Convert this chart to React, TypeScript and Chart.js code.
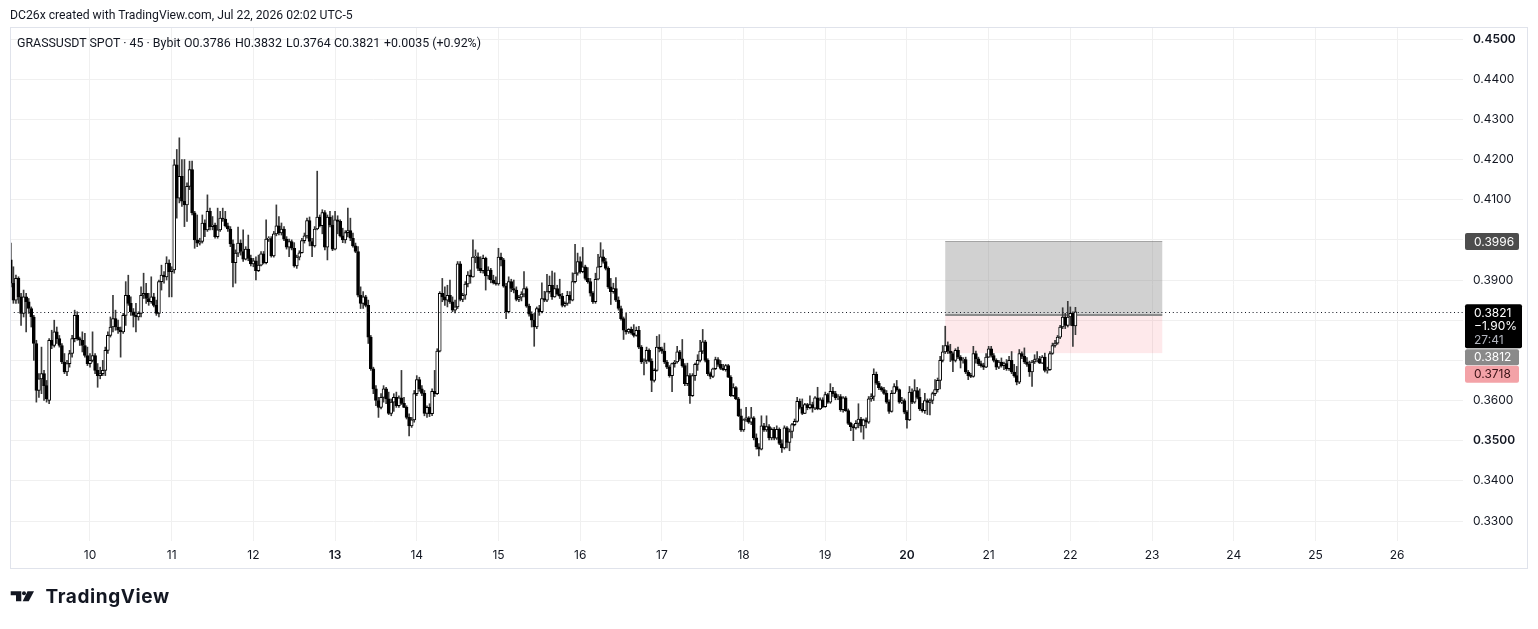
import React, { useEffect, useRef } from "react";
import { Chart, registerables } from "chart.js";

Chart.register(...registerables);

type Candle = [number, number, number, number]; // open, high, low, close

// 45-minute candles, GRASSUSDT (Bybit). Each day holds its candles in time order.
const jul09: Candle[] = [
  [0.3950,0.3992,0.3883,0.3892],[0.3892,0.3933,0.3842,0.3850],[0.3850,0.3912,0.3842,0.3904],[0.3904,0.3908,0.3842,0.3858],
  [0.3858,0.3867,0.3787,0.3817],[0.3817,0.3875,0.3808,0.3858],[0.3858,0.3867,0.3771,0.3846],[0.3846,0.3854,0.3817,0.3829],
  [0.3829,0.3833,0.3783,0.3808],[0.3808,0.3812,0.3700,0.3742],[0.3742,0.3750,0.3596,0.3625],[0.3625,0.3667,0.3608,0.3654],
  [0.3654,0.3733,0.3617,0.3667],[0.3667,0.3675,0.3600,0.3637],[0.3637,0.3650,0.3596,0.3604],[0.3600,0.3754,0.3592,0.3750],
  [0.3750,0.3775,0.3729,0.3737],[0.3737,0.3800,0.3733,0.3771],[0.3771,0.3783,0.3742,0.3754],[0.3754,0.3762,0.3733,0.3737],
  [0.3737,0.3742,0.3692,0.3696],[0.3696,0.3717,0.3667,0.3671],[0.3671,0.3700,0.3662,0.3692],[0.3692,0.3725,0.3683,0.3717],
  [0.3717,0.3762,0.3708,0.3754],[0.3754,0.3825,0.3746,0.3812],[0.3812,0.3821,0.3750,0.3754],[0.3754,0.3758,0.3737,0.3750],
  [0.3750,0.3771,0.3721,0.3737],[0.3737,0.3767,0.3708,0.3712],[0.3712,0.3733,0.3687,0.3692],
];
const jul10: Candle[] = [
  [0.3692,0.3717,0.3683,0.3700],[0.3700,0.3771,0.3696,0.3712],[0.3712,0.3717,0.3667,0.3675],[0.3675,0.3692,0.3633,0.3662],
  [0.3662,0.3683,0.3654,0.3667],[0.3667,0.3700,0.3662,0.3675],[0.3675,0.3733,0.3662,0.3725],[0.3725,0.3771,0.3717,0.3762],
  [0.3762,0.3808,0.3758,0.3783],[0.3783,0.3862,0.3771,0.3804],[0.3804,0.3825,0.3775,0.3783],[0.3783,0.3800,0.3767,0.3775],
  [0.3775,0.3783,0.3708,0.3771],[0.3771,0.3817,0.3767,0.3812],[0.3812,0.3896,0.3787,0.3862],[0.3862,0.3912,0.3837,0.3842],
  [0.3842,0.3858,0.3812,0.3821],[0.3821,0.3829,0.3783,0.3812],[0.3812,0.3842,0.3771,0.3808],[0.3808,0.3821,0.3800,0.3817],
  [0.3817,0.3883,0.3808,0.3862],[0.3862,0.3917,0.3854,0.3867],[0.3867,0.3892,0.3842,0.3854],[0.3854,0.3867,0.3837,0.3846],
  [0.3846,0.3908,0.3842,0.3858],[0.3858,0.3867,0.3833,0.3837],[0.3837,0.3850,0.3812,0.3817],[0.3817,0.3900,0.3808,0.3896],
  [0.3896,0.3937,0.3875,0.3912],[0.3912,0.3921,0.3892,0.3908],[0.3908,0.3958,0.3900,0.3942],[0.3942,0.3950,0.3858,0.3921],
];
const jul11: Candle[] = [
  [0.3921,0.3933,0.3858,0.3925],[0.3925,0.4200,0.3917,0.4187],[0.4187,0.4225,0.4054,0.4104],[0.4104,0.4254,0.4092,0.4158],
  [0.4158,0.4200,0.4083,0.4096],[0.4096,0.4200,0.4033,0.4087],[0.4087,0.4142,0.4046,0.4133],[0.4133,0.4196,0.4125,0.4175],
  [0.4175,0.4196,0.4062,0.4067],[0.4067,0.4071,0.3979,0.4000],[0.4000,0.4062,0.3983,0.3992],[0.3992,0.4004,0.3987,0.3996],
  [0.3996,0.4062,0.3992,0.4042],[0.4042,0.4050,0.4008,0.4025],[0.4025,0.4112,0.4021,0.4071],[0.4071,0.4079,0.4025,0.4033],
  [0.4033,0.4058,0.4025,0.4037],[0.4037,0.4042,0.4004,0.4008],[0.4008,0.4079,0.4004,0.4025],[0.4025,0.4071,0.4021,0.4054],
  [0.4054,0.4079,0.4046,0.4052],[0.4052,0.4071,0.4032,0.4035],[0.4035,0.4042,0.4021,0.4027],[0.4027,0.4033,0.3983,0.3990],
  [0.3990,0.4000,0.3883,0.3943],[0.3943,0.3975,0.3892,0.3967],[0.3967,0.4032,0.3958,0.3992],[0.3992,0.4000,0.3962,0.3971],
  [0.3971,0.4025,0.3946,0.3952],[0.3952,0.3983,0.3950,0.3977],[0.3977,0.4012,0.3948,0.3954],[0.3954,0.3962,0.3935,0.3940],
];
const jul12: Candle[] = [
  [0.3940,0.3954,0.3933,0.3948],[0.3948,0.3958,0.3900,0.3923],[0.3923,0.3962,0.3921,0.3937],[0.3937,0.3971,0.3935,0.3965],
  [0.3965,0.3971,0.3940,0.3943],[0.3943,0.4050,0.3940,0.4002],[0.4002,0.4008,0.3996,0.4003],[0.4003,0.4008,0.3957,0.3960],
  [0.3960,0.4021,0.3957,0.4015],[0.4015,0.4087,0.4010,0.4035],[0.4035,0.4058,0.4012,0.4017],[0.4017,0.4042,0.4012,0.4027],
  [0.4027,0.4033,0.3998,0.4002],[0.4002,0.4008,0.3977,0.3982],[0.3982,0.4002,0.3958,0.3996],[0.3996,0.4000,0.3975,0.3979],
  [0.3979,0.3993,0.3932,0.3935],[0.3935,0.3962,0.3929,0.3957],[0.3957,0.3973,0.3950,0.3968],[0.3968,0.4004,0.3967,0.3998],
  [0.3998,0.4017,0.3992,0.4010],[0.4010,0.4054,0.4004,0.4048],[0.4048,0.4057,0.3985,0.3996],[0.3996,0.4004,0.3958,0.3985],
  [0.3985,0.4033,0.3982,0.4027],[0.4027,0.4171,0.4025,0.4057],[0.4057,0.4062,0.4032,0.4035],[0.4035,0.4075,0.4015,0.4068],
  [0.4068,0.4073,0.3975,0.3982],[0.3982,0.4062,0.3950,0.4057],[0.4057,0.4071,0.4032,0.4037],[0.4037,0.4060,0.3973,0.3977],
];
const jul13: Candle[] = [
  [0.3977,0.4071,0.3975,0.4050],[0.4050,0.4060,0.4015,0.4046],[0.4046,0.4050,0.4007,0.4010],[0.4010,0.4029,0.3993,0.4000],
  [0.4000,0.4023,0.3992,0.4018],[0.4018,0.4079,0.4007,0.4023],[0.4023,0.4054,0.3998,0.4004],[0.4004,0.4017,0.3982,0.3985],
  [0.3985,0.3992,0.3968,0.3971],[0.3971,0.3983,0.3858,0.3862],[0.3862,0.3883,0.3829,0.3842],[0.3842,0.3871,0.3829,0.3858],
  [0.3858,0.3862,0.3833,0.3837],[0.3837,0.3850,0.3742,0.3758],[0.3758,0.3762,0.3675,0.3679],[0.3679,0.3683,0.3617,0.3629],
  [0.3629,0.3637,0.3587,0.3600],[0.3600,0.3608,0.3558,0.3583],[0.3583,0.3617,0.3579,0.3608],[0.3608,0.3637,0.3596,0.3629],
  [0.3629,0.3633,0.3592,0.3604],[0.3604,0.3621,0.3565,0.3568],[0.3568,0.3604,0.3562,0.3596],[0.3596,0.3617,0.3573,0.3608],
  [0.3608,0.3621,0.3583,0.3587],[0.3587,0.3612,0.3583,0.3607],[0.3607,0.3675,0.3590,0.3593],[0.3593,0.3608,0.3582,0.3583],
  [0.3583,0.3587,0.3554,0.3558],[0.3558,0.3567,0.3512,0.3537],[0.3537,0.3558,0.3533,0.3552],[0.3552,0.3625,0.3546,0.3617],
];
const jul14: Candle[] = [
  [0.3617,0.3662,0.3612,0.3652],[0.3652,0.3658,0.3623,0.3629],[0.3629,0.3637,0.3612,0.3618],[0.3618,0.3625,0.3562,0.3568],
  [0.3568,0.3587,0.3558,0.3583],[0.3583,0.3592,0.3560,0.3567],[0.3567,0.3629,0.3562,0.3623],[0.3623,0.3675,0.3610,0.3617],
  [0.3617,0.3729,0.3615,0.3723],[0.3723,0.3871,0.3721,0.3867],[0.3867,0.3904,0.3846,0.3858],[0.3858,0.3883,0.3837,0.3850],
  [0.3850,0.3887,0.3833,0.3862],[0.3862,0.3900,0.3842,0.3846],[0.3846,0.3858,0.3821,0.3825],[0.3825,0.3850,0.3818,0.3833],
  [0.3833,0.3946,0.3829,0.3940],[0.3940,0.3946,0.3848,0.3852],[0.3852,0.3867,0.3846,0.3862],[0.3862,0.3896,0.3852,0.3890],
  [0.3890,0.3921,0.3883,0.3912],[0.3912,0.3925,0.3892,0.3908],[0.3908,0.4000,0.3907,0.3957],[0.3957,0.3975,0.3943,0.3958],
  [0.3958,0.3968,0.3923,0.3929],[0.3929,0.3958,0.3918,0.3923],[0.3923,0.3962,0.3917,0.3954],[0.3954,0.3957,0.3875,0.3910],
  [0.3910,0.3933,0.3902,0.3925],[0.3925,0.3929,0.3893,0.3900],[0.3900,0.3912,0.3890,0.3893],[0.3893,0.3908,0.3887,0.3890],
];
const jul15: Candle[] = [
  [0.3890,0.3979,0.3887,0.3957],[0.3957,0.3967,0.3935,0.3950],[0.3950,0.3954,0.3882,0.3885],[0.3885,0.3892,0.3804,0.3821],
  [0.3821,0.3908,0.3818,0.3896],[0.3896,0.3902,0.3871,0.3879],[0.3879,0.3900,0.3868,0.3875],[0.3875,0.3883,0.3848,0.3852],
  [0.3852,0.3862,0.3846,0.3857],[0.3857,0.3871,0.3848,0.3865],[0.3865,0.3921,0.3858,0.3879],[0.3879,0.3883,0.3832,0.3835],
  [0.3835,0.3840,0.3810,0.3815],[0.3815,0.3821,0.3783,0.3800],[0.3800,0.3817,0.3735,0.3783],[0.3783,0.3833,0.3779,0.3829],
  [0.3829,0.3837,0.3812,0.3821],[0.3821,0.3893,0.3818,0.3854],[0.3854,0.3872,0.3846,0.3850],[0.3850,0.3914,0.3846,0.3871],
  [0.3871,0.3910,0.3867,0.3887],[0.3887,0.3922,0.3852,0.3858],[0.3858,0.3918,0.3857,0.3879],[0.3879,0.3887,0.3862,0.3865],
  [0.3865,0.3902,0.3854,0.3860],[0.3860,0.3867,0.3833,0.3837],[0.3837,0.3846,0.3833,0.3842],[0.3842,0.3872,0.3837,0.3862],
  [0.3862,0.3871,0.3842,0.3850],[0.3850,0.3918,0.3848,0.3896],[0.3896,0.3989,0.3893,0.3917],[0.3917,0.3967,0.3912,0.3946],
];
const jul16: Candle[] = [
  [0.3946,0.3958,0.3917,0.3921],[0.3921,0.3981,0.3918,0.3933],[0.3933,0.3937,0.3900,0.3904],[0.3904,0.3931,0.3892,0.3896],
  [0.3896,0.3904,0.3860,0.3867],[0.3867,0.3871,0.3842,0.3846],[0.3846,0.3917,0.3842,0.3902],[0.3902,0.3964,0.3900,0.3933],
  [0.3933,0.3993,0.3932,0.3958],[0.3958,0.3975,0.3942,0.3946],[0.3946,0.3954,0.3925,0.3929],[0.3929,0.3933,0.3879,0.3883],
  [0.3883,0.3904,0.3839,0.3871],[0.3871,0.3892,0.3867,0.3879],[0.3879,0.3906,0.3846,0.3850],[0.3850,0.3858,0.3825,0.3829],
  [0.3829,0.3835,0.3800,0.3804],[0.3804,0.3808,0.3752,0.3775],[0.3775,0.3817,0.3765,0.3771],[0.3771,0.3779,0.3767,0.3777],
  [0.3777,0.3783,0.3765,0.3768],[0.3768,0.3789,0.3758,0.3762],[0.3762,0.3783,0.3760,0.3775],[0.3775,0.3785,0.3729,0.3733],
  [0.3733,0.3737,0.3692,0.3696],[0.3696,0.3704,0.3664,0.3700],[0.3700,0.3733,0.3692,0.3725],[0.3725,0.3729,0.3696,0.3698],
  [0.3698,0.3704,0.3622,0.3650],[0.3650,0.3679,0.3646,0.3675],[0.3675,0.3760,0.3673,0.3733],[0.3733,0.3764,0.3721,0.3729],
];
const jul17: Candle[] = [
  [0.3729,0.3733,0.3717,0.3723],[0.3723,0.3743,0.3692,0.3696],[0.3696,0.3700,0.3679,0.3683],[0.3683,0.3687,0.3658,0.3662],
  [0.3662,0.3693,0.3622,0.3692],[0.3692,0.3700,0.3683,0.3696],[0.3696,0.3735,0.3693,0.3721],[0.3721,0.3725,0.3700,0.3704],
  [0.3704,0.3752,0.3683,0.3687],[0.3687,0.3692,0.3637,0.3642],[0.3642,0.3693,0.3637,0.3662],[0.3662,0.3667,0.3593,0.3612],
  [0.3612,0.3667,0.3610,0.3662],[0.3662,0.3693,0.3650,0.3690],[0.3690,0.3714,0.3675,0.3700],[0.3700,0.3750,0.3696,0.3723],
  [0.3723,0.3777,0.3717,0.3746],[0.3746,0.3750,0.3696,0.3700],[0.3700,0.3704,0.3662,0.3667],[0.3667,0.3671,0.3654,0.3660],
  [0.3660,0.3681,0.3657,0.3679],[0.3679,0.3708,0.3677,0.3702],[0.3702,0.3707,0.3685,0.3690],[0.3690,0.3700,0.3677,0.3680],
  [0.3680,0.3690,0.3675,0.3677],[0.3677,0.3690,0.3673,0.3687],[0.3687,0.3690,0.3657,0.3658],[0.3658,0.3662,0.3610,0.3612],
  [0.3612,0.3642,0.3610,0.3632],[0.3632,0.3635,0.3602,0.3604],[0.3604,0.3608,0.3560,0.3562],[0.3562,0.3579,0.3523,0.3527],
];
const jul18: Candle[] = [
  [0.3527,0.3554,0.3523,0.3552],[0.3552,0.3583,0.3548,0.3557],[0.3557,0.3560,0.3543,0.3546],[0.3546,0.3583,0.3540,0.3557],
  [0.3557,0.3560,0.3502,0.3507],[0.3507,0.3517,0.3479,0.3485],[0.3485,0.3493,0.3462,0.3479],[0.3479,0.3562,0.3477,0.3537],
  [0.3537,0.3543,0.3523,0.3527],[0.3527,0.3562,0.3523,0.3535],[0.3535,0.3540,0.3502,0.3507],[0.3507,0.3532,0.3502,0.3528],
  [0.3528,0.3533,0.3502,0.3506],[0.3506,0.3537,0.3503,0.3528],[0.3528,0.3532,0.3490,0.3493],[0.3493,0.3502,0.3471,0.3482],
  [0.3482,0.3537,0.3479,0.3532],[0.3532,0.3535,0.3482,0.3496],[0.3496,0.3529,0.3475,0.3523],[0.3523,0.3543,0.3507,0.3540],
  [0.3540,0.3554,0.3537,0.3548],[0.3548,0.3608,0.3546,0.3598],[0.3598,0.3604,0.3579,0.3583],[0.3583,0.3604,0.3565,0.3568],
  [0.3568,0.3593,0.3567,0.3590],[0.3590,0.3593,0.3577,0.3582],[0.3582,0.3612,0.3579,0.3590],[0.3590,0.3596,0.3571,0.3581],
  [0.3581,0.3610,0.3577,0.3607],[0.3607,0.3633,0.3577,0.3579],[0.3579,0.3607,0.3577,0.3602],[0.3602,0.3607,0.3582,0.3585],
];
const jul19: Candle[] = [
  [0.3585,0.3621,0.3583,0.3615],[0.3615,0.3618,0.3593,0.3596],[0.3596,0.3642,0.3593,0.3623],[0.3623,0.3633,0.3610,0.3617],
  [0.3617,0.3623,0.3602,0.3607],[0.3607,0.3615,0.3602,0.3610],[0.3610,0.3615,0.3573,0.3577],[0.3577,0.3610,0.3571,0.3607],
  [0.3607,0.3610,0.3573,0.3575],[0.3575,0.3579,0.3540,0.3543],[0.3543,0.3546,0.3525,0.3535],[0.3535,0.3540,0.3500,0.3532],
  [0.3532,0.3550,0.3529,0.3543],[0.3543,0.3592,0.3532,0.3554],[0.3554,0.3558,0.3521,0.3537],[0.3537,0.3554,0.3504,0.3552],
  [0.3552,0.3557,0.3532,0.3546],[0.3546,0.3610,0.3543,0.3604],[0.3604,0.3617,0.3598,0.3610],[0.3610,0.3679,0.3600,0.3665],
  [0.3665,0.3671,0.3640,0.3643],[0.3643,0.3648,0.3627,0.3632],[0.3632,0.3635,0.3623,0.3627],[0.3627,0.3633,0.3615,0.3618],
  [0.3618,0.3625,0.3593,0.3596],[0.3596,0.3602,0.3568,0.3573],[0.3573,0.3625,0.3571,0.3618],[0.3618,0.3642,0.3617,0.3635],
  [0.3635,0.3650,0.3623,0.3627],[0.3627,0.3629,0.3593,0.3596],[0.3596,0.3608,0.3592,0.3600],[0.3600,0.3604,0.3567,0.3571],
];
const jul20: Candle[] = [
  [0.3571,0.3575,0.3531,0.3552],[0.3552,0.3635,0.3550,0.3621],[0.3621,0.3629,0.3592,0.3596],[0.3596,0.3652,0.3593,0.3625],
  [0.3625,0.3633,0.3604,0.3608],[0.3608,0.3629,0.3575,0.3579],[0.3579,0.3593,0.3571,0.3575],[0.3575,0.3618,0.3568,0.3600],
  [0.3600,0.3604,0.3565,0.3595],[0.3595,0.3604,0.3564,0.3600],[0.3600,0.3621,0.3592,0.3617],[0.3617,0.3652,0.3612,0.3627],
  [0.3627,0.3656,0.3621,0.3650],[0.3650,0.3710,0.3629,0.3700],[0.3700,0.3737,0.3696,0.3721],[0.3721,0.3785,0.3717,0.3737],
  [0.3737,0.3746,0.3717,0.3723],[0.3723,0.3740,0.3697,0.3717],[0.3717,0.3721,0.3672,0.3700],[0.3700,0.3729,0.3696,0.3725],
  [0.3725,0.3733,0.3704,0.3708],[0.3708,0.3712,0.3681,0.3700],[0.3700,0.3707,0.3693,0.3702],[0.3702,0.3708,0.3667,0.3671],
  [0.3671,0.3675,0.3652,0.3662],[0.3662,0.3668,0.3657,0.3660],[0.3660,0.3735,0.3658,0.3717],[0.3717,0.3723,0.3693,0.3704],
  [0.3704,0.3708,0.3687,0.3692],[0.3692,0.3698,0.3683,0.3687],[0.3687,0.3693,0.3677,0.3683],[0.3683,0.3717,0.3682,0.3708],
];
const jul21: Candle[] = [
  [0.3708,0.3735,0.3707,0.3729],[0.3729,0.3735,0.3708,0.3712],[0.3712,0.3717,0.3696,0.3700],[0.3700,0.3704,0.3677,0.3683],
  [0.3683,0.3700,0.3679,0.3696],[0.3696,0.3706,0.3683,0.3687],[0.3687,0.3696,0.3677,0.3692],[0.3692,0.3702,0.3675,0.3679],
  [0.3679,0.3710,0.3675,0.3700],[0.3700,0.3722,0.3667,0.3671],[0.3671,0.3690,0.3658,0.3662],[0.3662,0.3685,0.3639,0.3646],
  [0.3646,0.3727,0.3642,0.3717],[0.3717,0.3721,0.3704,0.3710],[0.3710,0.3731,0.3692,0.3696],[0.3696,0.3707,0.3685,0.3690],
  [0.3690,0.3698,0.3660,0.3671],[0.3671,0.3700,0.3635,0.3696],[0.3696,0.3714,0.3692,0.3702],[0.3702,0.3722,0.3696,0.3704],
  [0.3704,0.3710,0.3692,0.3693],[0.3693,0.3712,0.3692,0.3708],[0.3708,0.3718,0.3671,0.3675],[0.3675,0.3683,0.3668,0.3677],
  [0.3677,0.3722,0.3675,0.3717],[0.3717,0.3743,0.3715,0.3737],[0.3737,0.3750,0.3733,0.3743],[0.3743,0.3762,0.3740,0.3758],
  [0.3758,0.3787,0.3754,0.3783],[0.3783,0.3831,0.3779,0.3808],[0.3808,0.3817,0.3779,0.3787],[0.3787,0.3847,0.3783,0.3808],
];
const jul22: Candle[] = [
  [0.3808,0.3833,0.3787,0.3817],[0.3817,0.3821,0.3735,0.3786],[0.3786,0.3832,0.3764,0.3821],
];

const tradingDays: Candle[][] = [jul09, jul10, jul11, jul12, jul13, jul14, jul15, jul16, jul17, jul18, jul19, jul20, jul21, jul22];
const firstCandleSlot = 1; // Jul 9, 00:45 is the 2nd 45-minute slot of the day
const candlesPerDay = 32;

// time axis
const dayLabels = ["10", "11", "12", "13", "14", "15", "16", "17", "18", "19", "20", "21", "22", "23", "24", "25", "26"];
const boldDayLabels = ["13", "20"];
const xRange = { min: 0.67, max: 569.8 };

// price axis
const priceRange = { min: 0.32503, max: 0.45274 };
const priceStep = 0.01;
const boldPrices = [0.45, 0.35];

// short position tool and markers
const lastPrice = 0.3821;
const lastChange = "\u22121.90%";
const countdown = "27:41";
const stopPrice = 0.3996;
const entryPrice = 0.3812;
const targetPrice = 0.3718;
const positionSlots = { start: 367, end: 452 };

const AXIS_FONT = "Inter, 'Noto Sans', sans-serif";
const UI_FONT = "Roboto, 'Noto Sans', sans-serif";
const TEXT = "#131722";
const GRID = "#f0f0f0";

function roundRect(ctx: CanvasRenderingContext2D, x: number, y: number, w: number, h: number, r: number) {
  ctx.beginPath();
  ctx.moveTo(x + r, y);
  ctx.lineTo(x + w - r, y);
  ctx.quadraticCurveTo(x + w, y, x + w, y + r);
  ctx.lineTo(x + w, y + h - r);
  ctx.quadraticCurveTo(x + w, y + h, x + w - r, y + h);
  ctx.lineTo(x + r, y + h);
  ctx.quadraticCurveTo(x, y + h, x, y + h - r);
  ctx.lineTo(x, y + r);
  ctx.quadraticCurveTo(x, y, x + r, y);
  ctx.closePath();
}

const overlayPlugin = {
  id: "tvOverlay",
  beforeDatasetsDraw(chart: any) {
    const { ctx, chartArea: a, scales } = chart;
    const x = scales.x, y = scales.y;
    const x0 = x.getPixelForValue(positionSlots.start);
    const x1 = x.getPixelForValue(positionSlots.end);
    const yStop = y.getPixelForValue(stopPrice);
    const yEntry = y.getPixelForValue(entryPrice);
    const yTarget = y.getPixelForValue(targetPrice);
    ctx.save();
    ctx.beginPath();
    ctx.rect(a.left, a.top, a.right - a.left, a.bottom - a.top);
    ctx.clip();
    ctx.fillStyle = "rgba(128,128,128,0.36)";
    ctx.fillRect(x0, yStop, x1 - x0, yEntry - yStop);
    ctx.fillStyle = "rgba(242,54,69,0.11)";
    ctx.fillRect(x0, yEntry, x1 - x0, yTarget - yEntry);
    ctx.strokeStyle = "rgba(110,110,110,0.55)";
    ctx.lineWidth = 1;
    ctx.beginPath();
    ctx.moveTo(x0, Math.round(yStop) + 0.5);
    ctx.lineTo(x1, Math.round(yStop) + 0.5);
    ctx.stroke();
    ctx.strokeStyle = "#8b8b8b";
    ctx.lineWidth = 2;
    ctx.beginPath();
    ctx.moveTo(x0, Math.round(yEntry));
    ctx.lineTo(x1, Math.round(yEntry));
    ctx.stroke();
    ctx.restore();
  },
  afterDatasetsDraw(chart: any) {
    const { ctx, chartArea: a, scales } = chart;
    const yLast = Math.round(scales.y.getPixelForValue(lastPrice)) + 0.5;
    ctx.save();
    ctx.strokeStyle = TEXT;
    ctx.lineWidth = 1;
    ctx.setLineDash([1, 2.8]);
    ctx.beginPath();
    ctx.moveTo(a.left, yLast);
    ctx.lineTo(a.right, yLast);
    ctx.stroke();
    ctx.restore();
  },
  afterDraw(chart: any) {
    const { ctx, chartArea: a, scales, width } = chart;
    const y = scales.y;
    ctx.save();
    // outer frame of the chart pane + axes
    ctx.strokeStyle = "#e0e3eb";
    ctx.lineWidth = 1;
    ctx.strokeRect(a.left + 0.5, a.top - 0.5, width - 10 - a.left - 1, a.bottom + 27 - a.top + 1);

    const tagLeft = a.right + 2;
    const textLeft = a.right + 11;
    ctx.font = `12px ${AXIS_FONT}`;
    ctx.textBaseline = "middle";
    ctx.textAlign = "left";

    // stop price tag
    const yStop = y.getPixelForValue(stopPrice);
    ctx.fillStyle = "#4d4d4d";
    roundRect(ctx, tagLeft, yStop - 8.5, 54, 17, 2);
    ctx.fill();
    ctx.fillStyle = "#ffffff";
    ctx.fillText(stopPrice.toFixed(4), textLeft, yStop + 0.5);

    // last price tag
    const yLast = y.getPixelForValue(lastPrice);
    const lastTop = yLast - 7.5;
    ctx.fillStyle = "#000000";
    roundRect(ctx, tagLeft, lastTop, 57, 44, 2);
    ctx.fill();
    ctx.fillStyle = "#ffffff";
    ctx.fillText(lastPrice.toFixed(4), textLeft, lastTop + 9);
    ctx.fillText(lastChange, textLeft, lastTop + 22.5);
    ctx.fillStyle = "#b2b5be";
    ctx.fillText(countdown, textLeft, lastTop + 36);

    // entry tag (pushed below last price tag)
    const entryTop = lastTop + 45;
    ctx.fillStyle = "#8a8a8a";
    roundRect(ctx, tagLeft, entryTop, 54, 16, 2);
    ctx.fill();
    ctx.fillStyle = "#ffffff";
    ctx.fillText(entryPrice.toFixed(4), textLeft, entryTop + 8.5);

    // target tag
    const targetTop = entryTop + 16.5;
    ctx.fillStyle = "#f3a2a7";
    roundRect(ctx, tagLeft, targetTop, 54, 17, 2);
    ctx.fill();
    ctx.fillStyle = "#3b1216";
    ctx.fillText(targetPrice.toFixed(4), textLeft, targetTop + 9);
    ctx.restore();
  },
};

function LogoIcon() {
  return (
    <svg width="26" height="11" viewBox="0 0 26 11" style={{ position: "absolute", left: 10, top: 591 }}>
      <path d="M0.7 0.3 H11.3 V10.3 H6 V4.3 H0.7 Z" fill={TEXT} />
      <circle cx="14" cy="2.3" r="2" fill={TEXT} />
      <path d="M17.5 0.3 H24 L18.7 10.3 H12.7 Z" fill={TEXT} />
    </svg>
  );
}

export default function App() {
  const canvasRef = useRef<HTMLCanvasElement | null>(null);

  useEffect(() => {
    const candles: Candle[] = tradingDays.flat();
    const wickData = candles.map((c, k) => ({ x: firstCandleSlot + k, y: [c[2], c[1]] }));
    const bodyData = candles.map((c, k) => ({ x: firstCandleSlot + k, y: [Math.min(c[0], c[3]), Math.max(c[0], c[3])] }));
    const bodyFill = candles.map((c) => (c[3] >= c[0] ? "#ffffff" : "#000000"));

    const chart = new Chart(canvasRef.current as HTMLCanvasElement, {
      type: "bar",
      data: {
        datasets: [
          {
            label: "body",
            data: bodyData as any,
            backgroundColor: bodyFill,
            borderColor: "#000000",
            borderWidth: 1,
            borderSkipped: false,
            barThickness: 3,
            minBarLength: 1,
            grouped: false,
            order: 0,
          } as any,
          {
            label: "wick",
            data: wickData as any,
            backgroundColor: "#3a3a3a",
            borderWidth: 0,
            barThickness: 1,
            grouped: false,
            order: 1,
          } as any,
        ],
      },
      options: {
        responsive: false,
        animation: false,
        events: [],
        layout: { padding: { top: 28, left: 10, right: 10, bottom: 61 } },
        plugins: { legend: { display: false }, tooltip: { enabled: false } },
        scales: {
          x: {
            type: "linear",
            min: xRange.min,
            max: xRange.max,
            offset: false,
            afterBuildTicks: (scale: any) => {
              scale.ticks = dayLabels.map((_, k) => ({ value: (k + 1) * candlesPerDay }));
            },
            afterFit: (scale: any) => {
              scale.height = 27;
            },
            grid: { color: GRID, drawTicks: false, lineWidth: 1, offset: false },
            border: { display: false },
            ticks: {
              autoSkip: false,
              maxRotation: 0,
              padding: 7,
              color: TEXT,
              callback: (_v: any, i: number) => dayLabels[i],
              font: (c: any) => ({
                family: AXIS_FONT,
                size: 12,
                weight: boldDayLabels.includes(dayLabels[c.index]) ? "600" : "400",
              }),
            },
          } as any,
          y: {
            type: "linear",
            position: "right",
            min: priceRange.min,
            max: priceRange.max,
            afterFit: (scale: any) => {
              scale.width = 65;
            },
            grid: { color: GRID, drawTicks: false, lineWidth: 1 },
            border: { display: false },
            ticks: {
              stepSize: priceStep,
              includeBounds: false,
              autoSkip: false,
              maxTicksLimit: 40,
              padding: 10,
              color: TEXT,
              callback: (v: any) => Number(v).toFixed(4),
              font: (c: any) => ({
                family: AXIS_FONT,
                size: 12,
                weight: boldPrices.some((p) => Math.abs(p - (c.tick ? c.tick.value : 0)) < 1e-6) ? "600" : "400",
              }),
            },
          } as any,
        },
      },
      plugins: [overlayPlugin],
    });
    return () => chart.destroy();
  }, []);

  const legendItems: [string, number][] = [
    ["GRASSUSDT SPOT \u00b7 45 \u00b7 Bybit", 17],
    ["O0.3786", 184],
    ["H0.3832", 235],
    ["L0.3764", 286],
    ["C0.3821", 334],
    ["+0.0035 (+0.92%)", 384],
  ];

  return (
    <div style={{ position: "absolute", left: 0, top: 0, width: 1538, height: 629, background: "#ffffff", overflow: "hidden", fontFamily: UI_FONT, color: TEXT }}>
      <canvas ref={canvasRef} width={1538} height={629} style={{ position: "absolute", left: 0, top: 0 }} />
      <div style={{ position: "absolute", left: 10, top: 7, fontSize: 12.2, lineHeight: "16px", whiteSpace: "nowrap" }}>
        DC26x created with TradingView.com, Jul 22, 2026 02:02 UTC-5
      </div>
      {legendItems.map(([t, left]) => (
        <div key={t} style={{ position: "absolute", left, top: 34.5, fontSize: 12.4, lineHeight: "16px", whiteSpace: "nowrap" }}>
          {t}
        </div>
      ))}
      <LogoIcon />
      <div style={{ position: "absolute", left: 45.5, top: 587, fontFamily: AXIS_FONT, fontSize: 19, lineHeight: "19px", fontWeight: 700, letterSpacing: 0.6, whiteSpace: "nowrap" }}>
        TradingView
      </div>
    </div>
  );
}
